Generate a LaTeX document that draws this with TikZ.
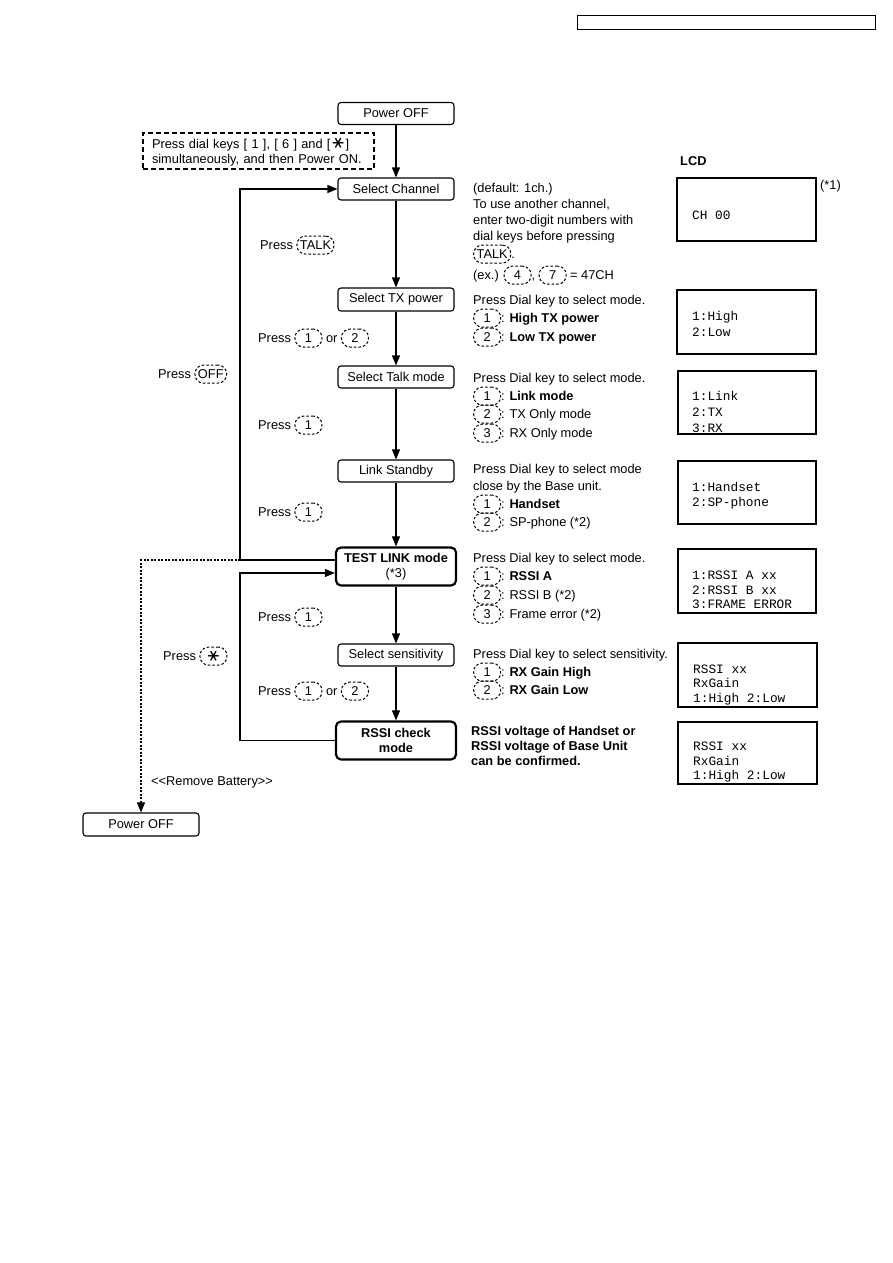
\documentclass[tikz,border=0pt]{standalone}
\usepackage{fontspec}
\usepackage{graphicx}
\setmainfont{Liberation Sans}
\newfontfamily\lcdfont{Liberation Mono}
\newfontfamily\symfont{DejaVu Sans}
\usetikzlibrary{arrows.meta}
\tikzset{
  box/.style={draw, line width=1.1pt, rounded corners=3pt, minimum width=116pt, minimum height=22pt, inner sep=0pt, font=\fontsize{12.8}{15}\selectfont},
  boldbox/.style={box, line width=2.2pt, rounded corners=5pt, minimum width=120pt, minimum height=38pt, align=center},
  notebox/.style={draw, line width=1.1pt, dash pattern=on 5pt off 3pt, minimum width=231pt, minimum height=36pt, inner sep=0pt, text width=213pt, align=left, font=\fontsize{12.8}{15}\selectfont},
  txt/.style={anchor=base west, inner sep=0pt, font=\fontsize{12.8}{15}\selectfont},
  lcdbox/.style={draw, line width=1.3pt, inner sep=0pt},
  lcdtxt/.style={anchor=base west, inner sep=0pt, font=\lcdfont\fontsize{12.8}{15}\selectfont},
  keyst/.style={draw, line width=1pt, dash pattern=on 2.6pt off 2pt, rounded corners=8.5pt, minimum height=18pt, minimum width=27pt, inner xsep=3pt, inner ysep=0pt, anchor=center},
  arr/.style={line width=1.1pt, -{Triangle[length=10pt,width=8pt]}},
  dotarr/.style={line width=1.1pt, dash pattern=on 2pt off 1.5pt, -{Triangle[length=10pt,width=8pt]}},
}
\newcommand{\keyk}[1]{\tikz[baseline=(kk.base)]\node[keyst](kk){#1};}
\newcommand{\starsym}{\raisebox{-1pt}{\scalebox{1.35}{\rotatebox[origin=c]{90}{\symfont ∗}}}}
\begin{document}
\begin{tikzpicture}[x=1pt,y=-1pt]
\useasboundingbox (0,0) rectangle (893,1263);
% header box
\node[draw, line width=1pt, minimum width=298pt, minimum height=14pt, inner sep=0pt] (hdr) at (726,23) {};
% flow boxes
\node[box] (p1) at (396,113.5) {Power OFF};
\node[notebox] (note) at (258.5,151) {Press dial keys [ 1 ], [ 6 ] and [\,\starsym\,]\\simultaneously, and then Power ON.};
\node[box] (sc) at (396,189) {Select Channel};
\node[box, minimum height=23pt] (tx) at (396,299.5) {Select TX power};
\node[box] (tm) at (396,377) {Select Talk mode};
\node[box] (ls) at (396,471) {Link Standby};
\node[boldbox] (tl) at (396,566.5) {\textbf{TEST LINK mode}\\(*3)};
\node[box] (ss) at (396,655) {Select sensitivity};
\node[boldbox] (rc) at (396,740.5) {\textbf{RSSI check}\\\textbf{mode}};
\node[box, minimum height=23pt] (p2) at (141,824.5) {Power OFF};
% coordinates
\coordinate (offc) at (240,560);
\coordinate (offd) at (141,560);
\coordinate (lp2a) at (240,740.5);
\coordinate (lp2b) at (240,573);
% arrows
\draw[arr] (p1) -- (sc);
\draw[arr] (sc) -- (tx);
\draw[arr] (tx) -- (tm);
\draw[arr] (tm) -- (ls);
\draw[arr] (ls) -- (tl);
\draw[arr] (tl) -- (ss);
\draw[arr] (ss) -- (rc);
\draw[arr] (tl.west |- offc) -- (offc) |- (sc.west);
\draw[dotarr] (offc) -- (offd) -- (p2.north);
\draw[arr] (rc.west) -- (lp2a) -- (lp2b) -- (tl.west |- lp2b);
% left labels
\node[txt] (l1) at (260,249.5) {Press \keyk{TALK}};
\node[txt] (l2) at (258,342.5) {Press \keyk{1} or \keyk{2}};
\node[txt] (l3) at (158,378.5) {Press \keyk{OFF}};
\node[txt] (l4) at (258,429.5) {Press \keyk{1}};
\node[txt] (l5) at (258,516.5) {Press \keyk{1}};
\node[txt] (l6) at (258,621.5) {Press \keyk{1}};
\node[txt] (l7) at (163,660.5) {Press \keyk{\starsym}};
\node[txt] (l8) at (258,695.5) {Press \keyk{1} or \keyk{2}};
\node[txt] (l9) at (151,785.5) {<{}<Remove Battery>{}>};
% right texts: channel
\node[txt] (c1) at (473,192.5) {(default: 1ch.)};
\node[txt] (c2) at (473,208.5) {To use another channel,};
\node[txt] (c3) at (473,224.5) {enter two-digit numbers with};
\node[txt] (c4) at (473,240.5) {dial keys before pressing};
\node[txt] (c5) at (473,258.5) {\keyk{TALK}.};
\node[txt] (c6) at (473,279.5) {(ex.) \keyk{4}, \keyk{7} = 47CH};
% tx power
\node[txt] (x1) at (473,304.5) {Press Dial key to select mode.};
\node[txt] (x2) at (473,322.5) {\keyk{1}: \textbf{High TX power}};
\node[txt] (x3) at (473,341.5) {\keyk{2}: \textbf{Low TX power}};
% talk mode
\node[txt] (m1) at (473,382.5) {Press Dial key to select mode.};
\node[txt] (m2) at (473,400.5) {\keyk{1}: \textbf{Link mode}};
\node[txt] (m3) at (473,418.5) {\keyk{2}: TX Only mode};
\node[txt] (m4) at (473,437.5) {\keyk{3}: RX Only mode};
% link standby
\node[txt] (s1) at (473,473.5) {Press Dial key to select mode};
\node[txt] (s2) at (473,490.5) {close by the Base unit.};
\node[txt] (s3) at (473,508.5) {\keyk{1}: \textbf{Handset}};
\node[txt] (s4) at (473,526.5) {\keyk{2}: SP-phone (*2)};
% test link
\node[txt] (t1) at (473,562.5) {Press Dial key to select mode.};
\node[txt] (t2) at (473,580.5) {\keyk{1}: \textbf{RSSI A}};
\node[txt] (t3) at (473,599.5) {\keyk{2}: RSSI B (*2)};
\node[txt] (t4) at (473,618.5) {\keyk{3}: Frame error (*2)};
% sensitivity
\node[txt] (e1) at (473,658.5) {Press Dial key to select sensitivity.};
\node[txt] (e2) at (473,676.5) {\keyk{1}: \textbf{RX Gain High}};
\node[txt] (e3) at (473,694.5) {\keyk{2}: \textbf{RX Gain Low}};
% rssi
\node[txt] (r1) at (471,735.5) {\textbf{RSSI voltage of Handset or}};
\node[txt] (r2) at (471,750.5) {\textbf{RSSI voltage of Base Unit}};
\node[txt] (r3) at (471,765.5) {\textbf{can be confirmed.}};
% LCD
\node[txt] (lcdh) at (680,165.5) {\textbf{LCD}};
\node[txt] (ast1) at (820,189.5) {(*1)};
\node[lcdbox, minimum width=139pt, minimum height=63pt] (d1) at (746.5,209.5) {};
\node[lcdbox, minimum width=139pt, minimum height=64pt] (d2) at (746.5,322) {};
\node[lcdbox, minimum width=138pt, minimum height=63pt] (d3) at (747,402.5) {};
\node[lcdbox, minimum width=138pt, minimum height=63pt] (d4) at (747,492.5) {};
\node[lcdbox, minimum width=138pt, minimum height=64pt] (d5) at (747,581) {};
\node[lcdbox, minimum width=139pt, minimum height=64pt] (d6) at (747.5,675) {};
\node[lcdbox, minimum width=139pt, minimum height=62pt] (d7) at (747.5,753) {};
\node[lcdtxt] (dt1) at (692,219.5) {CH 00};
\node[lcdtxt] (dt2) at (692,320.5) {1:High};
\node[lcdtxt] (dt3) at (692,336.5) {2:Low};
\node[lcdtxt] (dt4) at (692,400.5) {1:Link};
\node[lcdtxt] (dt5) at (692,416.5) {2:TX};
\node[lcdtxt] (dt6) at (692,432.5) {3:RX};
\node[lcdtxt] (dt7) at (692,491.5) {1:Handset};
\node[lcdtxt] (dt8) at (692,506.5) {2:SP-phone};
\node[lcdtxt] (dt9) at (692,579.5) {1:RSSI A xx};
\node[lcdtxt] (dt10) at (692,594.5) {2:RSSI B xx};
\node[lcdtxt] (dt11) at (692,608.5) {3:FRAME ERROR};
\node[lcdtxt] (dt12) at (693,673.5) {RSSI xx};
\node[lcdtxt] (dt13) at (693,687.5) {RxGain};
\node[lcdtxt] (dt14) at (693,702.5) {1:High 2:Low};
\node[lcdtxt] (dt15) at (693,750.5) {RSSI xx};
\node[lcdtxt] (dt16) at (693,765.5) {RxGain};
\node[lcdtxt] (dt17) at (693,779.5) {1:High 2:Low};
\end{tikzpicture}
\end{document}
